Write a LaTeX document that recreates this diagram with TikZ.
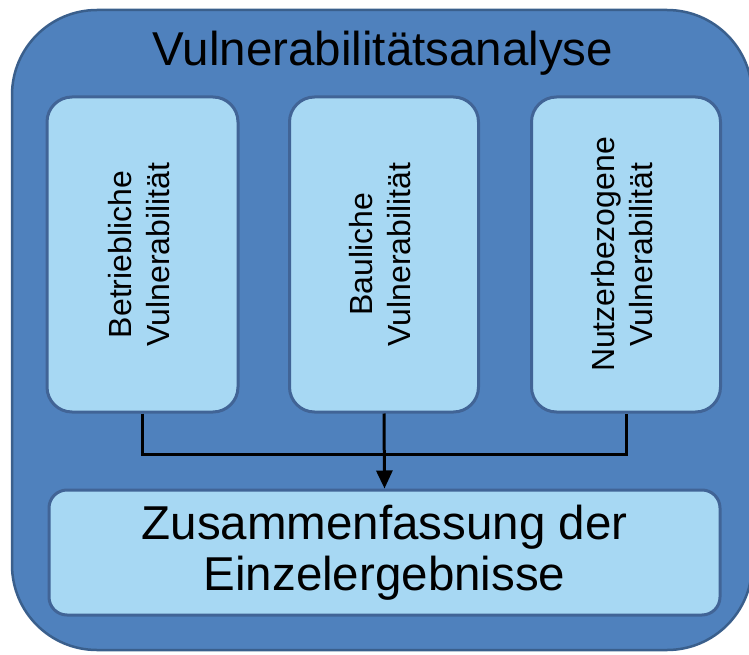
\documentclass[tikz,border=0pt]{standalone}
\usepackage{fontspec}
\setmainfont{Liberation Sans}
\usetikzlibrary{positioning,arrows.meta}

\definecolor{outerblue}{RGB}{79,129,189}
\definecolor{outerline}{RGB}{58,95,140}
\definecolor{innerblue}{RGB}{167,216,243}
\definecolor{innerline}{RGB}{65,100,150}

\newcommand{\vlabel}[2]{\rotatebox{90}{\begin{tabular}{@{}c@{}}#1\\#2\end{tabular}}}

\tikzset{
  part/.style={draw=innerline, fill=innerblue, line width=3pt, rounded corners=25pt,
    minimum width=189pt, minimum height=315pt, inner sep=0pt,
    font=\fontsize{32}{38}\selectfont},
  link/.style={line width=3pt, draw=black}
}

\begin{document}
\begin{tikzpicture}[x=1pt,y=-1pt]
\useasboundingbox (0,0) rectangle (749,655);
% outer frame and title
\node[draw=outerline, fill=outerblue, line width=2.5pt, rounded corners=85pt,
  minimum width=740pt, minimum height=640pt] (frame) at (382,330) {};
\node[font=\fontsize{47.5}{51}\selectfont, anchor=base] (title) at (383,66) {Vulnerabilitätsanalyse};

% the three parts
\node[part, minimum width=191pt] (betrieb) at (142.5,254.5) {\vlabel{Betriebliche}{Vulnerabilität}};
\node[part] (bau) at (384,254.5) {\vlabel{Bauliche}{Vulnerabilität}};
\node[part] (nutzer) at (626,254.5) {\vlabel{Nutzerbezogene}{Vulnerabilität}};

% summary
\node[part, minimum width=671pt, minimum height=125pt, rounded corners=18pt, align=center,
  font=\fontsize{47.5}{51}\selectfont] (summary) at (384.5,552.5) {Zusammenfassung der\\Einzelergebnisse};

\draw[link] (betrieb.south) -- ++(0,41) -| (nutzer.south);
\draw[link, -{Triangle[length=18pt,width=16pt]}] (bau.south) -- (summary.north);
\end{tikzpicture}
\end{document}
